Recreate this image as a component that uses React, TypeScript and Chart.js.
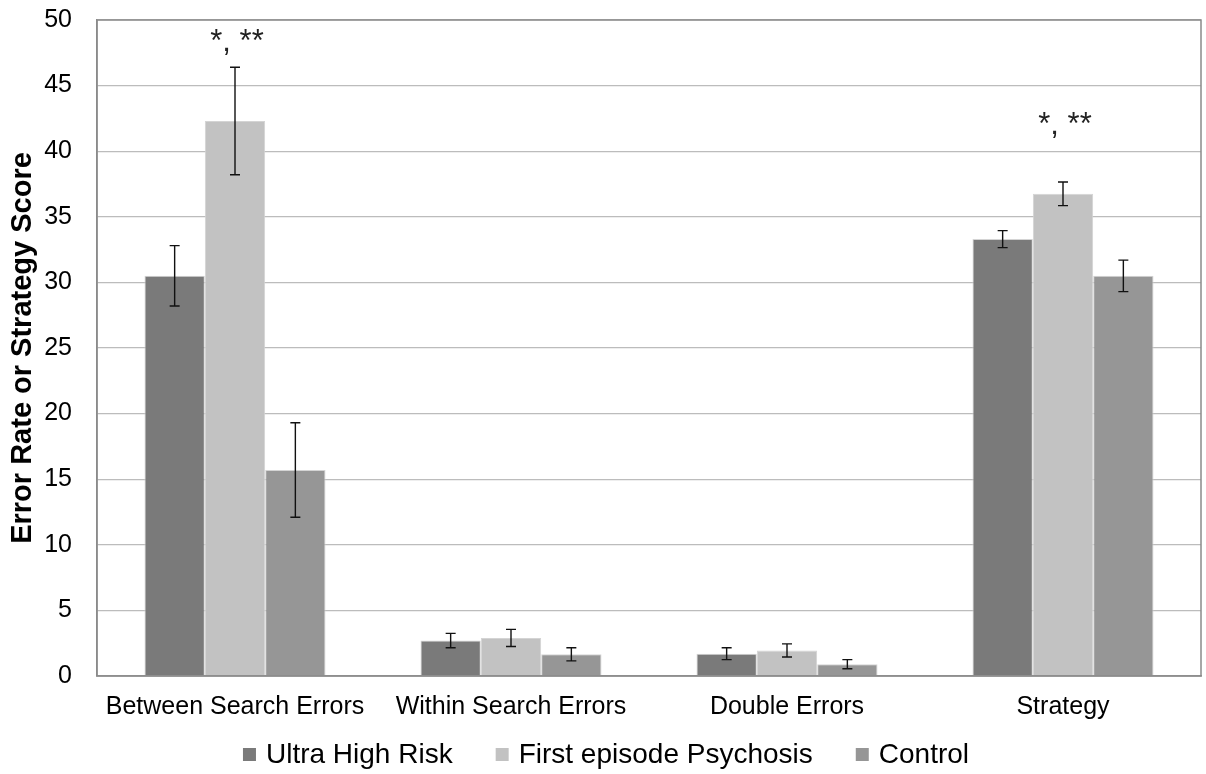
import React, { useEffect, useRef } from "react";
import { Chart, registerables } from "chart.js";

Chart.register(...registerables);

const categories = ["Between Search Errors", "Within Search Errors", "Double Errors", "Strategy"];
const seriesNames = ["Ultra High Risk", "First episode Psychosis", "Control"];
const uhrValues = [30.5, 2.7, 1.7, 33.3];
const uhrErrors = [2.3, 0.55, 0.45, 0.65];
const fepValues = [42.3, 2.9, 1.95, 36.75];
const fepErrors = [4.1, 0.65, 0.5, 0.9];
const controlValues = [15.7, 1.65, 0.9, 30.5];
const controlErrors = [3.6, 0.5, 0.35, 1.2];
const annotationTexts = ["*, **", "", "", "*, **"];
const annotationValues = [47.6, null, null, 41.3];
const yMin = 0;
const yMax = 50;
const yStep = 5;
const yTitle = "Error Rate or Strategy Score";

const FONT = "'Liberation Sans', Arial, sans-serif";
const colors = ["#7a7a7a", "#c2c2c2", "#969696"];
const errorSets = [uhrErrors, fepErrors, controlErrors];

const errorBarPlugin = {
  id: "errorBars",
  afterDatasetsDraw(chart: any) {
    const ctx = chart.ctx;
    const yScale = chart.scales.y;
    ctx.save();
    ctx.strokeStyle = "#111";
    ctx.lineWidth = 1.4;
    chart.data.datasets.forEach((ds: any, i: number) => {
      const meta = chart.getDatasetMeta(i);
      const errs = errorSets[i];
      meta.data.forEach((el: any, j: number) => {
        const v = ds.data[j];
        const e = errs[j];
        const x = el.x;
        const yt = yScale.getPixelForValue(v + e);
        const yb = yScale.getPixelForValue(v - e);
        const cap = 5;
        ctx.beginPath();
        ctx.moveTo(x, yt);
        ctx.lineTo(x, yb);
        ctx.moveTo(x - cap, yt);
        ctx.lineTo(x + cap, yt);
        ctx.moveTo(x - cap, yb);
        ctx.lineTo(x + cap, yb);
        ctx.stroke();
      });
    });
    ctx.restore();
  },
};

const annotationPlugin = {
  id: "annotations",
  afterDatasetsDraw(chart: any) {
    const ctx = chart.ctx;
    const yScale = chart.scales.y;
    const meta = chart.getDatasetMeta(1);
    ctx.save();
    ctx.fillStyle = "#222";
    ctx.font = `31px ${FONT}`;
    ctx.textAlign = "center";
    ctx.textBaseline = "alphabetic";
    annotationTexts.forEach((t, j) => {
      const v = annotationValues[j];
      if (!t || v === null) return;
      const el = meta.data[j];
      ctx.fillText(t, el.x + 2, yScale.getPixelForValue(v));
    });
    ctx.restore();
  },
};

const borderPlugin = {
  id: "plotBorder",
  afterDatasetsDraw(chart: any) {
    const { ctx, chartArea } = chart;
    ctx.save();
    ctx.strokeStyle = "#8a8a8a";
    ctx.lineWidth = 1.5;
    ctx.strokeRect(chartArea.left, chartArea.top, chartArea.right - chartArea.left, chartArea.bottom - chartArea.top);
    ctx.restore();
  },
};

const legendPlugin = {
  id: "customLegend",
  afterDraw(chart: any) {
    const ctx = chart.ctx;
    const box = 13;
    const boxGap = 10;
    const itemGap = 43;
    ctx.save();
    ctx.font = `28px ${FONT}`;
    const items = chart.data.datasets.map((ds: any) => ({
      label: ds.label,
      color: ds.backgroundColor,
      w: ctx.measureText(ds.label).width,
    }));
    const total = items.reduce((s: number, it: any) => s + box + boxGap + it.w, 0) + itemGap * (items.length - 1);
    let x = 606 - total / 2;
    const baseline = 763;
    items.forEach((it: any) => {
      ctx.fillStyle = it.color;
      ctx.fillRect(x, baseline - 15, box, box);
      x += box + boxGap;
      ctx.fillStyle = "#000";
      ctx.textAlign = "left";
      ctx.textBaseline = "alphabetic";
      ctx.fillText(it.label, x, baseline);
      x += it.w + itemGap;
    });
    ctx.restore();
  },
};

export default function App() {
  const canvasRef = useRef<HTMLCanvasElement | null>(null);

  useEffect(() => {
    if (!canvasRef.current) return;
    const valueSets = [uhrValues, fepValues, controlValues];
    const chart = new Chart(canvasRef.current, {
      type: "bar",
      data: {
        labels: categories,
        datasets: seriesNames.map((name, i) => ({
          label: name,
          data: valueSets[i],
          backgroundColor: colors[i],
          borderColor: "#d4d4d4",
          borderWidth: 1,
          categoryPercentage: 0.656,
          barPercentage: 1,
        })),
      },
      options: {
        responsive: false,
        animation: false,
        layout: { padding: { top: 20, right: 5, left: 0, bottom: 0 } },
        plugins: {
          tooltip: { enabled: false },
          legend: { display: false },
        },
        scales: {
          x: {
            afterFit(scale: any) {
              scale.height = 98;
            },
            grid: { display: false, drawTicks: false },
            border: { display: true, color: "#9a9a9a", width: 1.5 },
            ticks: {
              color: "#000",
              padding: 16,
              font: { family: FONT, size: 25 },
              maxRotation: 0,
              autoSkip: false,
            },
          },
          y: {
            min: yMin,
            max: yMax,
            afterFit(scale: any) {
              scale.width = 97;
              scale.paddingTop = 0;
              scale.paddingBottom = 0;
            },
            grid: { color: "#bcbcbc", lineWidth: 1.3, drawTicks: false },
            border: { display: true, color: "#8a8a8a", width: 1.5 },
            ticks: {
              stepSize: yStep,
              color: "#000",
              padding: 25,
              font: { family: FONT, size: 25 },
            },
            title: {
              display: true,
              text: yTitle,
              color: "#000",
              padding: { top: 8, bottom: 0 },
              font: { family: FONT, size: 29, weight: "bold", lineHeight: 1 },
            },
          },
        },
      },
      plugins: [borderPlugin, errorBarPlugin, annotationPlugin, legendPlugin],
    });
    return () => chart.destroy();
  }, []);

  return (
    <div style={{ position: "absolute", left: 0, top: 0, width: 1206, height: 774, background: "#fff" }}>
      <canvas ref={canvasRef} width={1206} height={774} style={{ display: "block" }} />
    </div>
  );
}
